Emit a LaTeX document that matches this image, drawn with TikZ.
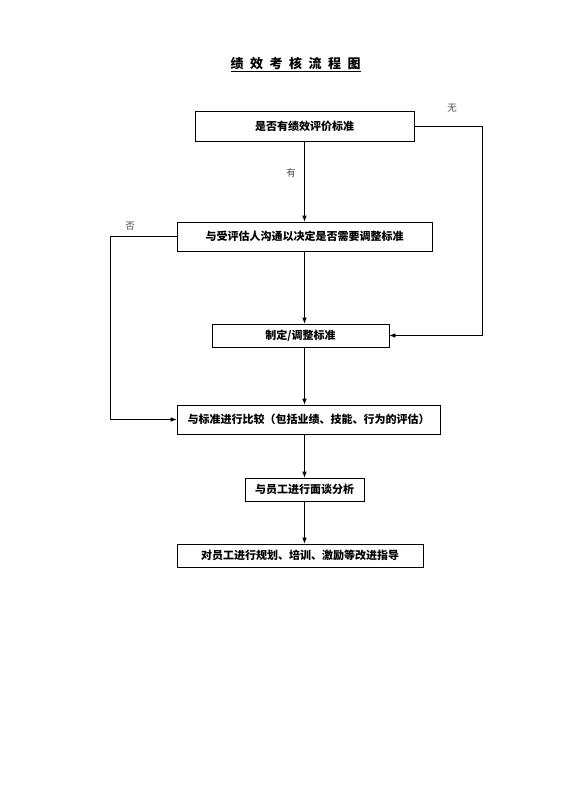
\documentclass[tikz,border=0pt]{standalone}
\usepackage{fontspec}
\setmainfont{Noto Sans CJK SC}
\usepackage{tikz}
\usetikzlibrary{arrows.meta,positioning,calc}
\tikzstyle{stage} = [draw,line width=0.6pt,inner sep=0pt,font=\fontsize{11}{13}\selectfont\bfseries]
\tikzstyle{flow} = [line width=0.6pt,arrows={-Latex[length=6pt,width=4.5pt]}]
\tikzstyle{answer} = [inner sep=0pt,text=black!70,font=\fontsize{9.5}{11}\selectfont]

\begin{document}
\begin{tikzpicture}[x=1pt,y=-1pt]
      \useasboundingbox[fill=white] (0,0) rectangle (560,792);
      \node (title) at (295.5,65) {\fontsize{13}{15}\selectfont\bfseries\underline{绩\hspace{6.5pt}效\hspace{6.5pt}考\hspace{6.5pt}核\hspace{6.5pt}流\hspace{6.5pt}程\hspace{6.5pt}图}};

      \node (s1)[stage,minimum width=219pt,minimum height=30pt] at (304.5,126)   {是否有绩效评价标准};
      \node (s2)[stage,minimum width=255pt,minimum height=29pt] at (304.5,236.5) {与受评估人沟通以决定是否需要调整标准};
      \node (s3)[stage,minimum width=177pt,minimum height=23pt] at (300.5,335.5) {制定/调整标准};
      \node (s4)[stage,minimum width=263pt,minimum height=29pt] at (308.5,419.5) {与标准进行比较（包括业绩、技能、行为的评估）};
      \node (s5)[stage,minimum width=119pt,minimum height=23pt] at (304.5,489.5) {与员工进行面谈分析};
      \node (s6)[stage,minimum width=246pt,minimum height=23pt] at (300,555.5)   {对员工进行规划、培训、激励等改进指导};

      \coordinate (right) at (482,0);
      \coordinate (left) at (110,0);

      \node (yes)[answer] at (291,173) {有};
      \node (none)[answer] at (452,108) {无};
      \node (no)[answer] at (130,226) {否};

      \draw[flow] (s1.south) -- (s2.north);
      \draw[flow] (s2.south) -- (s2.south |- s3.north);
      \draw[flow] (s2.south |- s3.south) -- (s2.south |- s4.north);
      \draw[flow] (s2.south |- s4.south) -- (s5.north);
      \draw[flow] (s5.south) -- (s5.south |- s6.north);
      \draw[flow] (s1.east) -| (right |- s3.east) -- (s3.east);
      \draw[flow] (s2.west) -| (left |- s4.west) -- (s4.west);
\end{tikzpicture}
\end{document}
